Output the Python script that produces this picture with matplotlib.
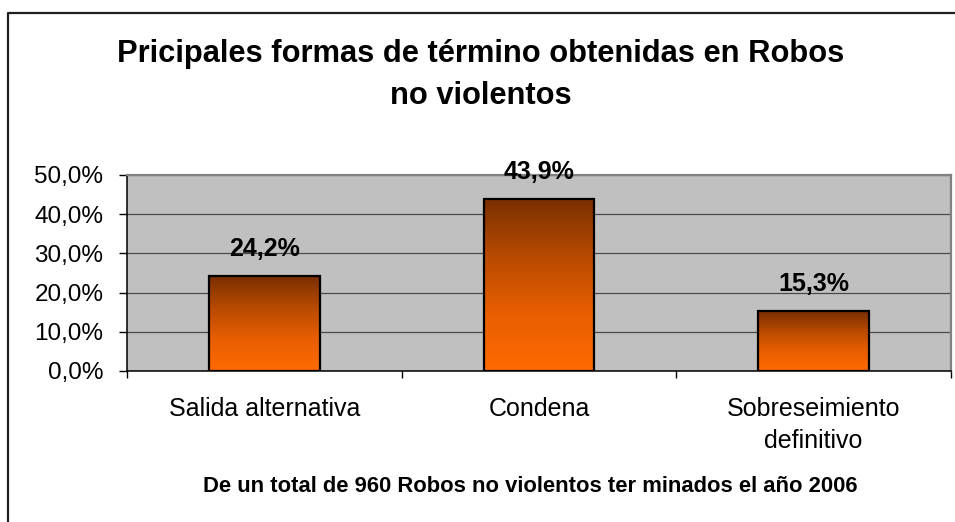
import numpy as np
import matplotlib
matplotlib.use("Agg")
import matplotlib.pyplot as plt
from matplotlib.colors import LinearSegmentedColormap
from matplotlib.lines import Line2D
from matplotlib.ticker import FixedLocator, FuncFormatter

# ---- data ----
categories = ["Salida alternativa", "Condena", "Sobreseimiento\ndefinitivo"]
values = [24.2, 43.9, 15.3]
yticks = [0, 10, 20, 30, 40, 50]
title = "Pricipales formas de término obtenidas en Robos\nno violentos"
footnote = "De un total de 960 Robos no violentos ter minados el año 2006"

plt.rcParams['font.family'] = ['Liberation Sans', 'DejaVu Sans']

W, H = 955, 522
fig = plt.figure(figsize=(W / 100, H / 100), dpi=100)
fig.patch.set_facecolor('white')

left, right, top, bottom = 127, 951, 175, 371
ax = fig.add_axes([left / W, 1 - bottom / H, (right - left) / W, (bottom - top) / H])
ax.set_facecolor('#C0C0C0')

# gridlines
ax.set_yticks(yticks)
ax.yaxis.set_major_formatter(FuncFormatter(lambda v, p: f"{v:.1f}".replace('.', ',') + "%"))
ax.grid(axis='y', color='#4a4a4a', linewidth=0.9, zorder=1)
ax.set_axisbelow(True)

# gradient bars
cmap = LinearSegmentedColormap.from_list('g', ['#FF6A00', '#E85E00', '#B84A00', '#7A2F00'])
grad = np.linspace(0, 1, 256).reshape(-1, 1)
bw = 0.404
bars = ax.bar(range(len(values)), values, width=bw, color='none', edgecolor='black',
              linewidth=1.6, zorder=4)
for b, v in zip(bars, values):
    x0 = b.get_x()
    im = ax.imshow(grad, cmap=cmap, origin='lower', aspect='auto',
                   extent=[x0, x0 + bw, 0, v], zorder=3, interpolation='bilinear')
    im.set_clip_path(b)
    ax.annotate(f"{v:.1f}".replace('.', ',') + "%", xy=(b.get_x() + bw / 2, v),
                xytext=(0, 19.5), textcoords='offset points', ha='center', va='center',
                fontsize=18, fontweight='bold', color='black', zorder=5)
ax.set_xlim(-0.5, len(categories) - 0.5)
ax.set_ylim(0, 50)

# x ticks: labels at centers, tick marks at category boundaries
ax.set_xticks(range(len(categories)))
ax.set_xticklabels(categories, fontsize=18, linespacing=1.4)
ax.tick_params(axis='x', which='major', length=0, pad=19)
ax.xaxis.set_minor_locator(FixedLocator(np.arange(-0.5, len(categories), 1.0)))
ax.tick_params(axis='x', which='minor', length=5, width=1, color='black', direction='out')
ax.tick_params(axis='y', length=6, width=1, color='black', direction='out', pad=11, labelsize=17.5)

for s in ['left', 'bottom']:
    ax.spines[s].set_color('black')
    ax.spines[s].set_linewidth(1.1)
for s in ['top', 'right']:
    ax.spines[s].set_color('#808080')
    ax.spines[s].set_linewidth(1.6)

# title and footnote
fig.text(481 / W, 1 - 75 / H, title, ha='center', va='center', fontsize=22.2,
         fontweight='bold', linespacing=1.55)
fig.text(530 / W, 1 - 486 / H, footnote, ha='center', va='center', fontsize=15.8,
         fontweight='bold')

# outer chart border (left and top visible)
fig.add_artist(Line2D([8 / W, 8 / W, 1.0], [0.0, 1 - 13 / H, 1 - 13 / H],
                      transform=fig.transFigure, color='#202020', linewidth=1.6))

fig.savefig('out.png', dpi=100)
